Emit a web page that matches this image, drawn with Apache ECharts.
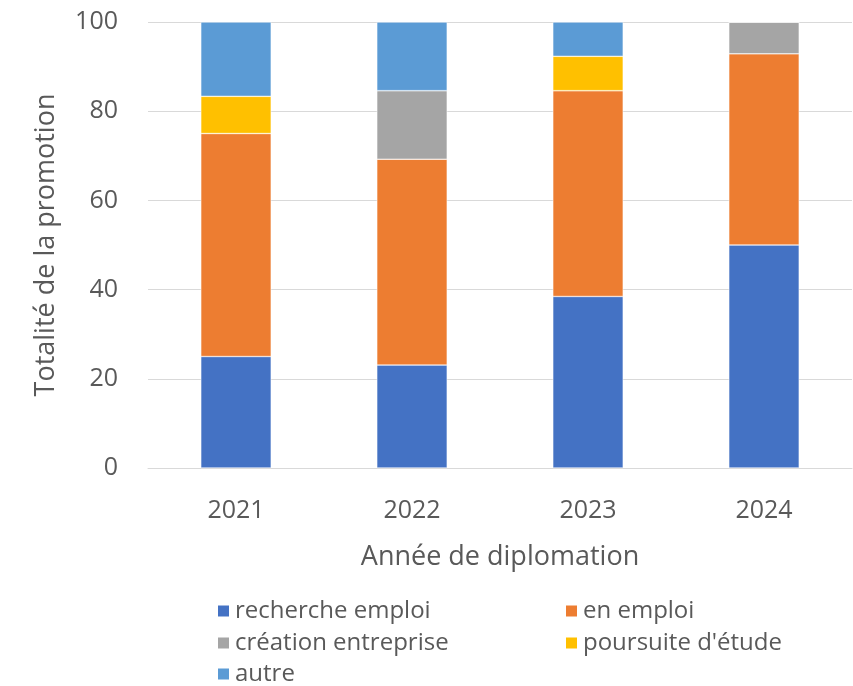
<!DOCTYPE html>
<html><head><meta charset="utf-8">
<script src="https://cdn.jsdelivr.net/npm/echarts@6/dist/echarts.min.js"></script>
<style>html,body{margin:0;padding:0;background:#fff}#c{width:853px;height:686px}</style>
</head><body><div id="c"></div>
<script>
const categories = ['2021', '2022', '2023', '2024'];
const rechercheEmploi = [25, 23.08, 38.46, 50];
const enEmploi = [50, 46.15, 46.15, 42.86];
const creationEntreprise = [0, 15.38, 0, 7.14];
const poursuiteEtude = [8.33, 0, 7.69, 0];
const autre = [16.67, 15.38, 7.69, 0];
const yTicks = [0, 20, 40, 60, 80, 100];

const font = 'Open Sans, Liberation Sans, sans-serif';
const txt = '#595959';
function mk(name, data, color) {
  return { name, type: 'bar', stack: 'total', data, barWidth: '40%',
    itemStyle: { color, borderColor: '#fff', borderWidth: 0.5 } };
}
function lg(name, left, centerY) {
  return { data: [name], left, top: centerY - 13, padding: 0,
    itemWidth: 13, itemHeight: 13, icon: 'rect',
    textStyle: { fontSize: 24, lineHeight: 26, color: txt, fontFamily: font } };
}
const chart = echarts.init(document.getElementById('c'));
chart.setOption({
  animation: false,
  textStyle: { fontFamily: font },
  grid: { left: 148, right: 1, top: 22, bottom: 218 },
  legend: [
    lg('recherche emploi', 216, 611),
    lg('création entreprise', 216, 643),
    lg('autre', 216, 674),
    lg('en emploi', 564, 611),
    lg("poursuite d'étude", 564, 643)
  ],
  xAxis: {
    type: 'category', data: categories,
    name: 'Année de diplomation', nameLocation: 'middle', nameGap: 76,
    nameTextStyle: { fontSize: 27, color: txt, fontFamily: font },
    axisLine: { lineStyle: { color: '#d9d9d9' } },
    axisTick: { show: false },
    axisLabel: { fontSize: 25, color: txt, margin: 30, fontFamily: font }
  },
  yAxis: {
    type: 'value', min: 0, max: 100, interval: 20,
    name: 'Totalité de la promotion', nameLocation: 'middle', nameGap: 88,
    nameTextStyle: { fontSize: 27, color: txt, fontFamily: font },
    axisLine: { show: false }, axisTick: { show: false },
    axisLabel: { fontSize: 25, color: txt, margin: 30, fontFamily: font,
      formatter: v => yTicks.includes(v) ? String(v) : '' },
    splitLine: { lineStyle: { color: '#d9d9d9', width: 1 } }
  },
  series: [
    mk('recherche emploi', rechercheEmploi, '#4472C4'),
    mk('en emploi', enEmploi, '#ED7D31'),
    mk('création entreprise', creationEntreprise, '#A5A5A5'),
    mk("poursuite d'étude", poursuiteEtude, '#FFC000'),
    mk('autre', autre, '#5B9BD5')
  ]
});
</script></body></html>
